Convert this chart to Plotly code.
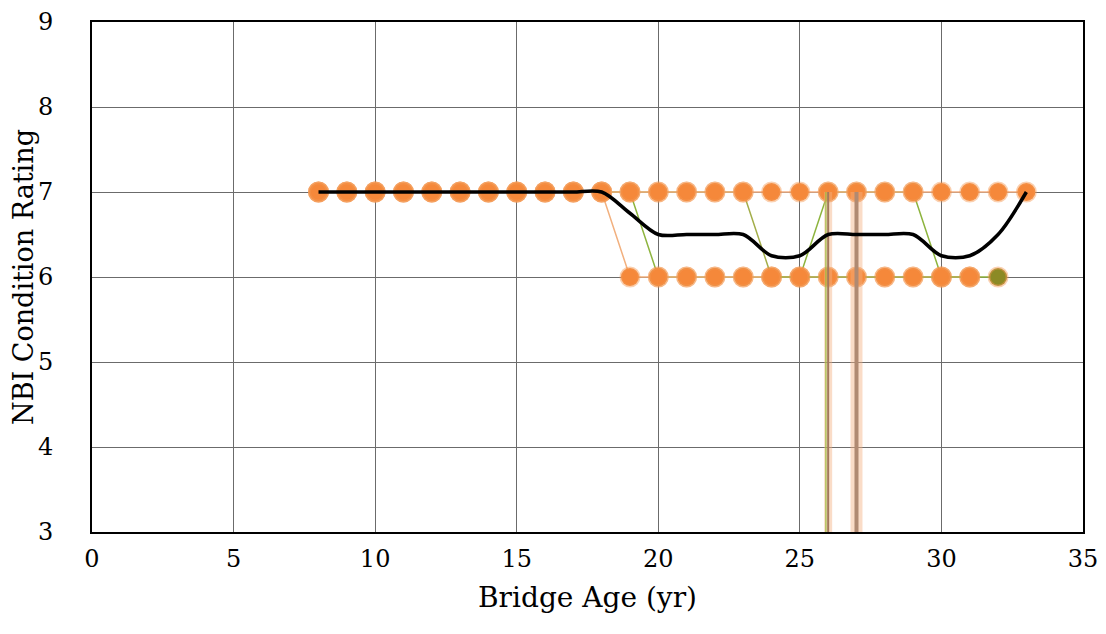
import plotly.graph_objects as go
import pandas as pd

# ---- data (bridge age in years vs NBI condition rating) ----
ages = list(range(8, 34))
bridge_a = [7]*11 + [6]*13 + [None, None]            # ages 8-18 at 7, 19-31 at 6
bridge_b = [7]*12 + [6]*6 + [7]*4 + [6]*3 + [None]    # ages 8-19 at 7, 20-25 at 6, 26-29 at 7, 30-32 at 6
bridge_c = [7]*16 + [6]*8 + [None, None]              # ages 8-23 at 7, 24-31 at 6
bridge_d = [7]*26                                     # ages 8-33 at 7

# records coded as 0 (drop off the chart)
drop_ages = [26, 27]
drop_from = [7, 7]
drop_to = [0, 0]

x_ticks = [0, 5, 10, 15, 20, 25, 30, 35]
y_ticks = [3, 4, 5, 6, 7, 8, 9]

df = pd.DataFrame({"A": bridge_a, "B": bridge_b, "C": bridge_c, "D": bridge_d}, index=ages, dtype=float)
mean_rating = df.mean(axis=1, skipna=True)

FONT = "DejaVu Serif"
ORANGE = "#F5883A"
HALO = "rgba(245,150,80,0.45)"

fig = go.Figure()

def add_series(vals, line_color, marker_color, lw=1.5):
    fig.add_trace(go.Scatter(
        x=ages, y=vals, mode="lines+markers",
        line=dict(color=line_color, width=lw),
        marker=dict(size=18, color=marker_color, line=dict(color=HALO, width=3)),
        showlegend=False, connectgaps=False, hoverinfo="x+y"))

add_series(bridge_b, "#8DB43E", "#8C8A25")
add_series(bridge_a, "#F2B07E", ORANGE)
add_series(bridge_c, "#A3AE4A", ORANGE)
add_series(bridge_d, "#F4B183", ORANGE)

# vertical drops for zero-coded records
for i, (a, t, b) in enumerate(zip(drop_ages, drop_from, drop_to)):
    core_w = 2 if i == 0 else 4
    halo_w = 8 if i == 0 else 12
    fig.add_trace(go.Scatter(x=[a, a], y=[t, b], mode="lines",
                             line=dict(color="rgba(244,177,131,0.45)", width=halo_w),
                             showlegend=False, hoverinfo="skip"))
    fig.add_trace(go.Scatter(x=[a, a], y=[t, b], mode="lines",
                             line=dict(color="#A27A5C" if i == 0 else "#B08A72", width=core_w),
                             showlegend=False, hoverinfo="skip"))
    if i == 0:
        fig.add_trace(go.Scatter(x=[a - 0.08, a - 0.08], y=[t, b], mode="lines",
                                 line=dict(color="#9BBB40", width=1.2),
                                 showlegend=False, hoverinfo="skip"))

# average trend line
fig.add_trace(go.Scatter(x=list(mean_rating.index), y=list(mean_rating.values), mode="lines",
                         line=dict(color="black", width=3.5, shape="spline", smoothing=0.9),
                         showlegend=False))

fig.update_layout(
    width=1106, height=634,
    margin=dict(l=84, r=31, t=14, b=110),
    paper_bgcolor="white", plot_bgcolor="white",
    font=dict(family=FONT, color="black", size=24),
)
fig.update_xaxes(range=[0, 35], tickvals=x_ticks, ticktext=[str(v) for v in x_ticks],
                 showgrid=True, gridcolor="#6b6b6b", gridwidth=1.3,
                 showline=True, linecolor="black", linewidth=2, mirror=True,
                 zeroline=False, ticks="", ticklabelstandoff=4, automargin=False,
                 ticklabeloverflow="allow",
                 tickfont=dict(family=FONT, size=24),
                 title=dict(text="Bridge Age (yr)", font=dict(family=FONT, size=28), standoff=16))
fig.update_yaxes(range=[3, 9], tickvals=y_ticks, ticktext=[str(v) for v in y_ticks],
                 showgrid=True, gridcolor="#6b6b6b", gridwidth=1.3,
                 showline=True, linecolor="black", linewidth=2, mirror=True,
                 zeroline=False, ticks="", ticklabelstandoff=32, automargin=False,
                 ticklabeloverflow="allow",
                 tickfont=dict(family=FONT, size=24),
                 title=dict(text="NBI Condition Rating", font=dict(family=FONT, size=27), standoff=11))

fig.write_html("out.html")
